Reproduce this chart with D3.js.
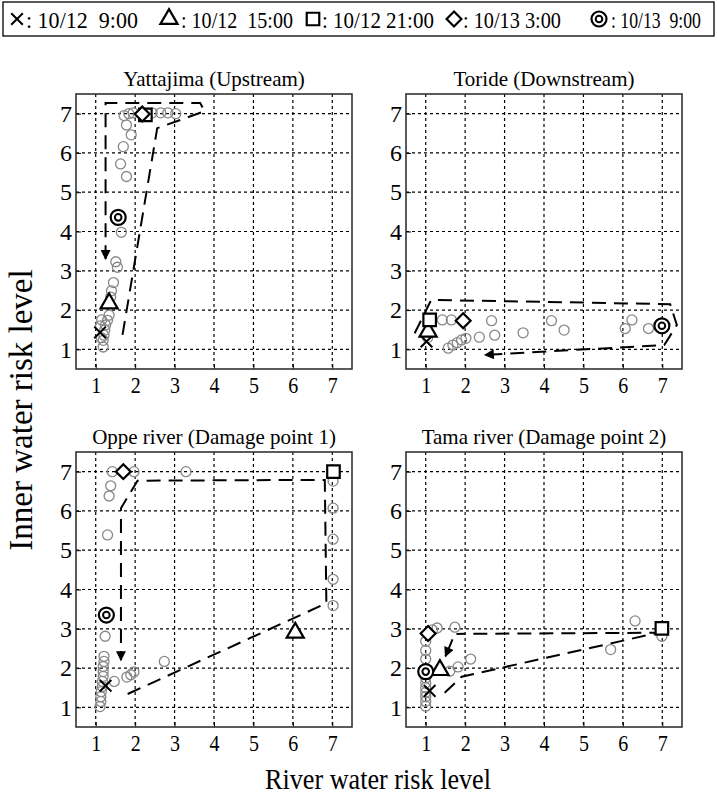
<!DOCTYPE html>
<html>
<head>
<meta charset="utf-8">
<script src="https://cdn.jsdelivr.net/npm/d3@7"></script>
<style>
body { margin: 0; background: #fff; }
text { font-family: "Liberation Serif", "Times New Roman", serif; fill: #000; }
</style>
</head>
<body>
<svg id="chart"></svg>
<script>
// values: [river risk, inner risk]
const titles = ["Yattajima (Upstream)", "Toride (Downstream)", "Oppe river (Damage point 1)", "Tama river (Damage point 2)"];
const ticks = [1, 2, 3, 4, 5, 6, 7];

const yattajimaPoints = [[1.72, 6.95], [1.84, 7.0], [1.95, 7.02], [2.43, 7.02], [2.65, 7.02], [2.83, 7.02], [3.03, 7.0],
    [1.78, 6.71], [1.9, 6.46], [1.7, 6.16], [1.63, 5.72], [1.78, 5.4], [1.65, 3.98], [1.51, 3.23], [1.55, 3.09],
    [1.45, 2.7], [1.4, 2.49], [1.38, 2.33], [1.34, 1.87], [1.3, 1.74], [1.25, 1.62], [1.23, 1.49], [1.21, 1.36],
    [1.19, 1.23], [1.19, 1.06], [1.15, 1.75], [1.12, 1.6], [1.14, 1.3]];
const toridePoints = [[1.42, 1.75], [1.65, 1.75], [2.67, 1.73], [4.19, 1.73], [4.51, 1.49], [3.47, 1.42], [2.75, 1.36],
    [2.36, 1.31], [2.02, 1.28], [1.91, 1.24], [1.8, 1.17], [1.69, 1.11], [1.57, 1.03], [6.06, 1.53], [6.23, 1.75],
    [6.65, 1.53], [1.05, 1.3]];
const oppePoints = [[1.42, 7.0], [1.97, 7.0], [3.29, 7.0], [1.38, 6.64], [1.34, 6.38], [1.3, 5.39], [7.02, 6.76],
    [7.02, 6.07], [7.02, 5.28], [7.02, 4.26], [7.02, 3.59], [1.24, 2.81], [2.74, 2.17], [1.97, 1.9], [1.89, 1.83],
    [1.79, 1.77], [1.47, 1.66], [1.21, 2.3], [1.21, 2.17], [1.19, 2.04], [1.19, 1.91], [1.19, 1.79], [1.17, 1.66],
    [1.17, 1.53], [1.14, 1.4], [1.13, 1.27], [1.13, 1.15], [1.11, 1.02]];
const tamaPoints = [[1.29, 3.02], [1.17, 2.97], [1.74, 3.04], [6.31, 3.2], [6.99, 2.81], [5.69, 2.47], [2.14, 2.23],
    [1.82, 2.03], [1.61, 1.92], [1.0, 2.68], [1.0, 2.45], [1.0, 2.23], [1.0, 1.75], [1.0, 1.62], [1.0, 1.5],
    [1.0, 1.38], [1.0, 1.27], [1.0, 1.15], [1.0, 1.03]];

// time markers: 10/12 9:00, 10/12 15:00, 10/12 21:00, 10/13 3:00, 10/13 9:00
const markerKeys = ["cross", "triangle", "square", "diamond", "bullseye"];
const markerLabels = [": 10/12  9:00", ": 10/12  15:00", ": 10/12 21:00", ": 10/13 3:00", ": 10/13  9:00"];
const yattajimaMarks = [[1.11, 1.43], [1.34, 2.17], [2.26, 6.97], [2.18, 6.99], [1.57, 4.36]];
const torideMarks = [[1.02, 1.2], [1.06, 1.45], [1.1, 1.75], [1.95, 1.73], [6.99, 1.6]];
const oppeMarks = [[1.25, 1.55], [6.06, 2.9], [7.03, 7.0], [1.7, 7.0], [1.27, 3.35]];
const tamaMarks = [[1.1, 1.42], [1.36, 1.95], [6.99, 3.01], [1.06, 2.88], [1.0, 1.91]];

// dashed trajectory, arrow at the end
const yattajimaPath = [[1.68, 1.37], [2.56, 6.63], [3.76, 7.06], [3.65, 7.27], [1.25, 7.27], [1.25, 3.3]];
const toridePath = [[0.72, 1.41], [1.14, 2.26], [7.2, 2.15], [7.37, 1.62], [7.05, 1.11], [2.5, 0.86]];
const oppePath = [[1.81, 1.34], [6.85, 3.65], [6.81, 6.79], [2.06, 6.77], [1.64, 6.07], [1.64, 2.2]];
const tamaPath = [[1.48, 1.37], [1.91, 1.78], [6.9, 2.9], [1.78, 2.87]];
const tamaArrow = [[1.68, 2.73], [1.5, 2.3]];

const WIDTH = 717, HEIGHT = 794;
const PW = 276, PH = 275;
const origins = [[76, 94], [406, 94], [76, 452], [406, 452]];

const panels = [
    { points: yattajimaPoints, marks: yattajimaMarks, path: yattajimaPath, arrow: null },
    { points: toridePoints, marks: torideMarks, path: toridePath, arrow: null },
    { points: oppePoints, marks: oppeMarks, path: oppePath, arrow: null },
    { points: tamaPoints, marks: tamaMarks, path: tamaPath, arrow: tamaArrow }
];

const svg = d3.select("#chart")
    .attr("width", WIDTH)
    .attr("height", HEIGHT);

svg.append("defs").append("marker")
    .attr("id", "head")
    .attr("viewBox", "0 0 10 10")
    .attr("refX", 9).attr("refY", 5)
    .attr("markerWidth", 5.5).attr("markerHeight", 5)
    .attr("markerUnits", "strokeWidth")
    .attr("orient", "auto")
    .append("path")
    .attr("d", "M0,0 L10,5 L0,10 Z")
    .attr("fill", "#000");

const x = d3.scaleLinear().domain([0.5, 7.5]).range([0, PW]);
const y = d3.scaleLinear().domain([0.5, 7.5]).range([PH, 0]);
const line = d3.line().x(d => x(d[0])).y(d => y(d[1]));

// the source figure's lettering is narrow: scale text horizontally to the measured width
function squeeze(sel, w) {
    sel.each(function () {
        const k = w / this.getComputedTextLength();
        const tx = +this.getAttribute("x") || 0;
        this.setAttribute("x", 0);
        this.setAttribute("transform", `translate(${tx},0) scale(${k},1)`);
    });
}

function drawMarker(g, key, cx, cy) {
    const m = g.append("g").attr("transform", `translate(${[cx, cy]})`);
    const style = s => s.attr("fill", "#fff").attr("stroke", "#000").attr("stroke-width", 2.2);
    if (key === "cross") {
        m.append("path").attr("d", d3.symbol(d3.symbolTimes, 90)())
            .attr("fill", "none").attr("stroke", "#000").attr("stroke-width", 2);
    } else if (key === "triangle") {
        m.append("path").attr("d", d3.symbol(d3.symbolTriangle2, 210)()).call(style);
    } else if (key === "square") {
        m.append("path").attr("d", d3.symbol(d3.symbolSquare2, 200)()).call(style);
    } else if (key === "diamond") {
        m.append("path").attr("d", d3.symbol(d3.symbolDiamond2, 140)()).call(style);
    } else {
        m.append("circle").attr("r", 7.5).call(style);
        m.append("circle").attr("r", 3.3).attr("fill", "none").attr("stroke", "#000").attr("stroke-width", 2);
    }
}

panels.forEach(function (p, i) {
    const g = svg.append("g").attr("transform", `translate(${origins[i]})`);

    // dotted grid
    g.selectAll("line.gx").data(ticks).enter().append("line")
        .attr("x1", d => x(d)).attr("x2", d => x(d))
        .attr("y1", 0).attr("y2", PH)
        .attr("stroke", "#000").attr("stroke-width", 1.2).attr("stroke-dasharray", "3,3");
    g.selectAll("line.gy").data(ticks).enter().append("line")
        .attr("y1", d => y(d)).attr("y2", d => y(d))
        .attr("x1", 0).attr("x2", PW)
        .attr("stroke", "#000").attr("stroke-width", 1.2).attr("stroke-dasharray", "3,3");

    // axes with inward ticks
    const xa = g.append("g").attr("transform", `translate(0,${PH})`)
        .call(d3.axisBottom(x).tickValues(ticks).tickFormat(d3.format("d")).tickSize(-5).tickPadding(7));
    const ya = g.append("g")
        .call(d3.axisLeft(y).tickValues(ticks).tickFormat(d3.format("d")).tickSize(-5).tickPadding(4));
    [xa, ya].forEach(a => {
        a.select(".domain").remove();
        a.selectAll("line").attr("stroke", "#000");
        a.selectAll("text").style("font-family", '"Liberation Serif", serif').style("font-size", "24px");
    });
    xa.selectAll("text").call(squeeze, 10);

    g.append("rect").attr("width", PW).attr("height", PH)
        .attr("fill", "none").attr("stroke", "#333").attr("stroke-width", 1.6);

    g.append("text").attr("x", PW / 2).attr("y", -8)
        .attr("text-anchor", "middle").style("font-size", "21px").text(titles[i]);

    // trajectory
    g.append("path").datum(p.path).attr("d", line)
        .attr("fill", "none").attr("stroke", "#000").attr("stroke-width", 2)
        .attr("stroke-dasharray", "14,8")
        .attr("marker-end", p.arrow ? null : "url(#head)");
    if (p.arrow) {
        g.append("path").datum(p.arrow).attr("d", line)
            .attr("fill", "none").attr("stroke", "#000").attr("stroke-width", 2)
            .attr("marker-end", "url(#head)");
    }

    g.selectAll("circle.obs").data(p.points).enter().append("circle")
        .attr("class", "obs")
        .attr("cx", d => x(d[0])).attr("cy", d => y(d[1])).attr("r", 5)
        .attr("fill", "none").attr("stroke", "#888").attr("stroke-width", 1.3);

    markerKeys.forEach(function (k, j) {
        drawMarker(g, k, x(p.marks[j][0]), y(p.marks[j][1]));
    });
});

// axis titles
svg.append("text").attr("transform", "translate(32,410) rotate(-90)")
    .attr("text-anchor", "middle").style("font-size", "33px").text("Inner water risk level");
svg.append("text").attr("x", 378).attr("y", 789)
    .attr("text-anchor", "middle").style("font-size", "30px")
    .text("River water risk level")
    .call(squeeze, 226);

// legend
const legend = svg.append("g");
legend.append("rect").attr("x", 3).attr("y", 2).attr("width", 711).attr("height", 34)
    .attr("fill", "#fff").attr("stroke", "#000").attr("stroke-width", 1.3);
const legendX = [17, 169, 313, 454, 599];
const legendTextX = [26, 181, 322, 463, 611];
const legendTextW = [112, 112, 112, 98, 90];
markerKeys.forEach(function (k, j) {
    drawMarker(legend, k, legendX[j], 19);
    legend.append("text").attr("x", legendTextX[j]).attr("y", 28)
        .attr("xml:space", "preserve").style("white-space", "pre")
        .style("font-size", "24px")
        .text(markerLabels[j])
        .call(squeeze, legendTextW[j]);
});
</script>
</body>
</html>
